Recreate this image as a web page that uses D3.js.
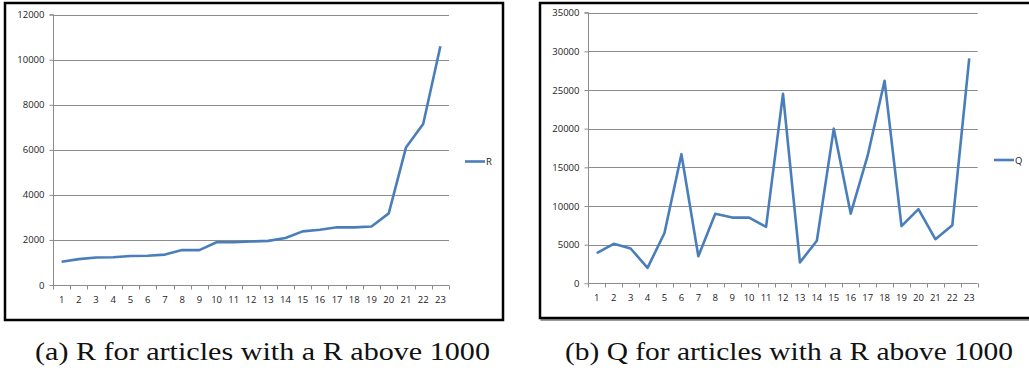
<!DOCTYPE html>
<html>
<head>
<meta charset="utf-8">
<script src="https://cdn.jsdelivr.net/npm/d3@7/dist/d3.min.js"></script>
<style>
  html, body { margin: 0; padding: 0; background: #fff; }
  svg { display: block; }
</style>
</head>
<body>
<svg id="chart" width="1029" height="374"></svg>
<script>
// Article index (1..23)
const categories = d3.range(1, 24).map(String);
// R per article
const rValues = [1030, 1150, 1220, 1230, 1290, 1300, 1350, 1550, 1550, 1900, 1900, 1930,
  1960, 2090, 2380, 2450, 2560, 2560, 2600, 3180, 6100, 7150, 10600];
// Q per article
const qValues = [3900, 5100, 4500, 2000, 6500, 16700, 3500, 9000, 8500, 8500, 7300, 24500,
  2700, 5500, 20000, 9000, 16500, 26200, 7400, 9600, 5700, 7500, 29100];
const rTicks = [0, 2000, 4000, 6000, 8000, 10000, 12000];
const qTicks = [0, 5000, 10000, 15000, 20000, 25000, 30000, 35000];
const captions = ["(a) R for articles with a R above 1000", "(b) Q for articles with a R above 1000"];

const svg = d3.select("#chart");
const lineColor = "#4a7ebb";
const gridColor = "#8c8c8c";

const panels = [
  { name: "R", values: rValues, ticks: rTicks, max: 12000,
    frame: [5, 3, 498, 317], plot: { x0: 53, x1: 449, y0: 285, y1: 14.7 },
    legendX: 465, legendY: 161.5, caption: captions[0], capX: 35, capW: 455 },
  { name: "Q", values: qValues, ticks: qTicks, max: 35000,
    frame: [540, 3, 492, 315], plot: { x0: 588.3, x1: 977.7, y0: 283.3, y1: 12.7 },
    legendX: 994, legendY: 160, caption: captions[1], capX: 565, capW: 448 }
];

panels.forEach(p => {
  const g = svg.append("g");
  const [fx, fy, fw, fh] = p.frame;
  // outer frame
  if (p.name === "Q") {
    g.append("rect").attr("x", fx + 1.5).attr("y", fy + 2).attr("width", fw).attr("height", fh)
      .attr("fill", "none").attr("stroke", "#9a9a9a").attr("stroke-width", 2);
  }
  g.append("rect").attr("x", fx).attr("y", fy).attr("width", fw).attr("height", fh)
    .attr("fill", "#fff").attr("stroke", "#000").attr("stroke-width", 2.5);

  const x = d3.scaleBand().domain(categories).range([p.plot.x0, p.plot.x1]);
  const y = d3.scaleLinear().domain([0, p.max]).range([p.plot.y0, p.plot.y1]);

  // horizontal gridlines
  g.append("g").selectAll("line").data(p.ticks.filter(t => t > 0)).join("line")
    .attr("x1", p.plot.x0).attr("x2", p.plot.x1)
    .attr("y1", d => Math.round(y(d)) + 0.5).attr("y2", d => Math.round(y(d)) + 0.5)
    .attr("stroke", gridColor).attr("stroke-width", 1);

  // y axis
  const yAxis = d3.axisLeft(y).tickValues(p.ticks).tickSize(4).tickPadding(5).tickFormat(d3.format("d"));
  const ya = g.append("g").attr("transform", `translate(${Math.round(p.plot.x0) + 0.5},0)`).call(yAxis);
  ya.select(".domain").attr("stroke", gridColor).attr("d", `M-4,${p.plot.y1}H0V${p.plot.y0}`);
  ya.selectAll(".tick line").attr("stroke", gridColor);
  ya.selectAll(".tick text").attr("fill", "#222").style("font-family", "'Open Sans', sans-serif").style("font-size", "9.5px");

  // x axis with ticks between categories
  const xa = g.append("g").attr("transform", `translate(0,${Math.round(p.plot.y0) + 0.5})`);
  xa.append("line").attr("x1", p.plot.x0).attr("x2", p.plot.x1).attr("stroke", gridColor);
  const edges = categories.map(c => x(c)).concat([x.range()[1]]);
  xa.selectAll("line.tk").data(edges).join("line").attr("class", "tk")
    .attr("x1", d => Math.round(d) + 0.5).attr("x2", d => Math.round(d) + 0.5)
    .attr("y1", 0).attr("y2", 4).attr("stroke", gridColor);
  xa.selectAll("text").data(categories).join("text")
    .attr("x", d => x(d) + x.bandwidth() / 2).attr("y", 17.5)
    .attr("text-anchor", "middle").attr("fill", "#222")
    .style("font-family", "'Open Sans', sans-serif").style("font-size", "9.5px")
    .text(d => d);

  // series line
  const line = d3.line().x((d, i) => x(categories[i]) + x.bandwidth() / 2).y(d => y(d));
  g.append("path").datum(p.values).attr("d", line)
    .attr("fill", "none").attr("stroke", lineColor).attr("stroke-width", 2.6)
    .attr("stroke-linejoin", "round");

  // legend
  g.append("line").attr("x1", p.legendX).attr("x2", p.legendX + 20)
    .attr("y1", p.legendY).attr("y2", p.legendY)
    .attr("stroke", lineColor).attr("stroke-width", 2.6);
  g.append("text").attr("x", p.legendX + 21).attr("y", p.legendY + 3.5)
    .attr("fill", "#222").style("font-family", "'Open Sans', sans-serif").style("font-size", "9.5px")
    .text(p.name);

  // caption
  svg.append("text").attr("x", p.capX).attr("y", 360)
    .attr("textLength", p.capW).attr("lengthAdjust", "spacingAndGlyphs")
    .style("font-family", "'Liberation Serif', serif").style("font-size", "25px")
    .attr("fill", "#111").text(p.caption);
});
</script>
</body>
</html>
